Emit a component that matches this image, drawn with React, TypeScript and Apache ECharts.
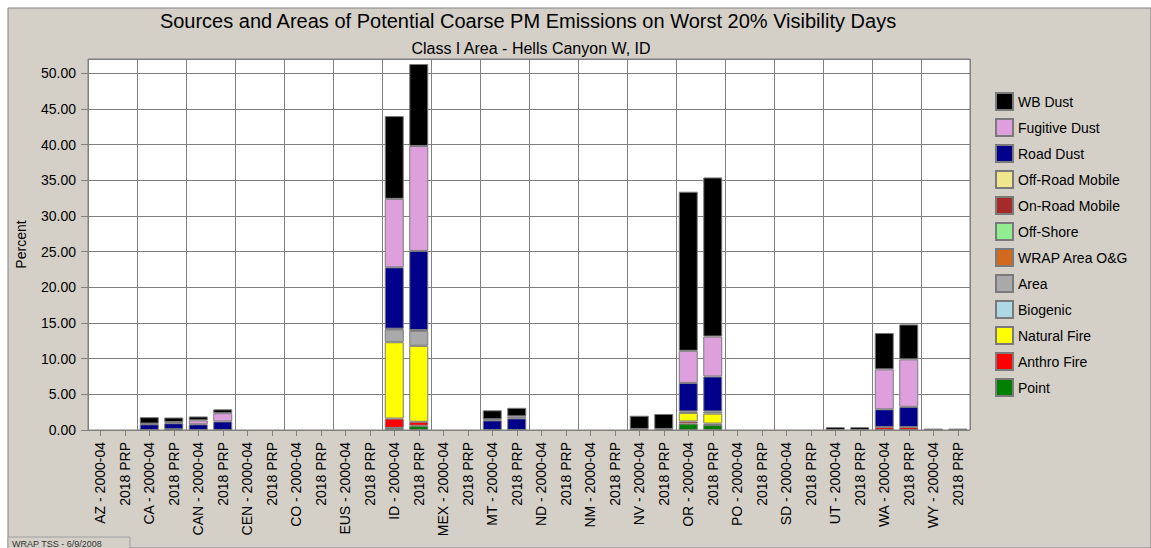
import React, { useEffect, useRef } from "react";
import * as echarts from "echarts";

const states = ["AZ","CA","CAN","CEN","CO","EUS","ID","MEX","MT","ND","NM","NV","OR","PO","SD","UT","WA","WY"];
const categories: string[] = [];
states.forEach((s) => { categories.push(`${s} - 2000-04`); categories.push("2018 PRP"); });

// index order: AZ0,AZ18,CA0,CA18,CAN0,CAN18,CEN0,CEN18,CO0,CO18,EUS0,EUS18,ID0,ID18,MEX0,MEX18,MT0,MT18,ND0,ND18,NM0,NM18,NV0,NV18,OR0,OR18,PO0,PO18,SD0,SD18,UT0,UT18,WA0,WA18,WY0,WY18
const point      = [0,0, 0,0, 0,0, 0,0, 0,0, 0,0, 0.3,0.6, 0,0, 0,0, 0,0, 0,0, 0,0, 0.9,0.7, 0,0, 0,0, 0,0, 0,0, 0,0];
const anthroFire = [0,0, 0,0, 0,0, 0,0, 0,0, 0,0, 1.3,0.55, 0,0, 0,0, 0,0, 0,0, 0,0, 0.3,0.2, 0,0, 0,0, 0,0, 0.4,0.4, 0,0];
const naturalFire= [0,0, 0,0, 0,0, 0,0, 0,0, 0,0, 10.7,10.65, 0,0, 0,0, 0,0, 0,0, 0,0, 1.2,1.4, 0,0, 0,0, 0,0, 0,0, 0,0];
const biogenic   = [0,0, 0,0, 0,0, 0,0, 0,0, 0,0, 0,0, 0,0, 0,0, 0,0, 0,0, 0,0, 0,0, 0,0, 0,0, 0,0, 0,0, 0,0];
const area       = [0,0, 0,0, 0,0, 0,0, 0,0, 0,0, 1.8,2.1, 0,0, 0,0, 0,0, 0,0, 0,0, 0.2,0.3, 0,0, 0,0, 0,0, 0,0, 0,0];
const wrapOG     = [0,0, 0,0, 0,0, 0,0, 0,0, 0,0, 0,0, 0,0, 0,0, 0,0, 0,0, 0,0, 0,0, 0,0, 0,0, 0,0, 0,0, 0,0];
const offShore   = [0,0, 0,0, 0,0, 0,0, 0,0, 0,0, 0,0, 0,0, 0,0, 0,0, 0,0, 0,0, 0,0, 0,0, 0,0, 0,0, 0,0, 0,0];
const onRoad     = [0,0, 0,0, 0,0, 0,0, 0,0, 0,0, 0.1,0.1, 0,0, 0,0, 0,0, 0,0, 0,0, 0,0, 0,0, 0,0, 0,0, 0,0, 0,0];
const offRoad    = [0,0, 0,0.1, 0,0, 0,0, 0,0, 0,0, 0,0, 0,0, 0,0, 0,0, 0,0, 0,0, 0,0, 0,0, 0,0, 0,0, 0,0, 0,0];
const roadDust   = [0,0, 0.8,0.85, 0.8,1.2, 0,0, 0,0, 0,0, 8.6,11.1, 0,0, 1.35,1.63, 0,0, 0,0, 0,0, 4.0,4.9, 0,0, 0,0, 0,0, 2.5,2.85, 0,0];
const fugitive   = [0,0, 0.1,0.15, 0.55,1.15, 0,0, 0,0, 0,0, 9.6,14.7, 0,0, 0.15,0.28, 0,0, 0,0, 0.15,0.15, 4.5,5.6, 0,0, 0,0, 0,0, 5.6,6.65, 0,0];
const wbDust     = [0,0, 0.9,0.65, 0.55,0.55, 0,0, 0,0, 0,0, 11.6,11.5, 0,0, 1.26,1.2, 0,0, 0,0, 1.85,2.1, 22.3,22.3, 0,0, 0,0, 0.4,0.4, 5.1,4.9, 0.2,0.2];

const seriesDefs = [
  { name: "Point", data: point, color: "#008000" },
  { name: "Anthro Fire", data: anthroFire, color: "#FF0000" },
  { name: "Natural Fire", data: naturalFire, color: "#FFFF00" },
  { name: "Biogenic", data: biogenic, color: "#ADD8E6" },
  { name: "Area", data: area, color: "#A9A9A9" },
  { name: "WRAP Area O&G", data: wrapOG, color: "#D2691E" },
  { name: "Off-Shore", data: offShore, color: "#90EE90" },
  { name: "On-Road Mobile", data: onRoad, color: "#A52A2A" },
  { name: "Off-Road Mobile", data: offRoad, color: "#F0E68C" },
  { name: "Road Dust", data: roadDust, color: "#00008B" },
  { name: "Fugitive Dust", data: fugitive, color: "#DDA0DD" },
  { name: "WB Dust", data: wbDust, color: "#000000" },
];

const FONT = "'Liberation Sans', Arial, sans-serif";

export default function App() {
  const ref = useRef<HTMLDivElement>(null);
  useEffect(() => {
    if (!ref.current) return;
    const chart = echarts.init(ref.current, undefined, { renderer: "svg" });
    chart.setOption({
      animation: false,
      backgroundColor: "#FFFFFF",
      textStyle: { fontFamily: FONT },
      graphic: [
        { type: "rect", z: -10, shape: { x: 8, y: 8, width: 1143, height: 540 }, style: { fill: "#D4D0C8", stroke: "#808080", lineWidth: 1 } },
        { type: "rect", z: 10, shape: { x: 8, y: 537, width: 122, height: 12 }, style: { fill: "#D4D0C8", stroke: "#A0A0A0", lineWidth: 1 } },
        { type: "text", z: 11, x: 12, y: 539, style: { text: "WRAP TSS - 6/9/2008", fontSize: 9, fill: "#333", fontFamily: FONT } },
      ],
      title: [
        { text: "Sources and Areas of Potential Coarse PM Emissions on Worst 20% Visibility Days", left: 523, top: 6, textAlign: "center",
          textStyle: { fontSize: 20, fontWeight: "normal", color: "#000", fontFamily: FONT } },
        { text: "Class I Area - Hells Canyon W, ID", left: 526, top: 35, textAlign: "center",
          textStyle: { fontSize: 16, fontWeight: "normal", color: "#000", fontFamily: FONT } },
      ],
      legend: {
        orient: "vertical", left: 990, top: 87, itemWidth: 17, itemHeight: 17, itemGap: 7,
        icon: "rect",
        data: seriesDefs.map((s) => s.name).reverse(),
        textStyle: { fontSize: 14, color: "#000", fontFamily: FONT },
      },
      grid: { left: 88, top: 59, right: 181, bottom: 118, show: true, backgroundColor: "#FFFFFF", borderColor: "#808080", borderWidth: 1 },
      xAxis: {
        type: "category", data: categories,
        axisLine: { show: false },
        axisTick: { show: true, alignWithLabel: true, length: 6, lineStyle: { color: "#808080" } },
        axisLabel: { interval: 0, rotate: 90, fontSize: 14, color: "#000", margin: 12, fontFamily: FONT },
        splitLine: { show: true, interval: (idx: number) => idx % 2 === 0, lineStyle: { color: "#808080", width: 1 } },
      },
      yAxis: {
        type: "value", min: 0, max: 52, interval: 5,
        name: "Percent", nameLocation: "middle", nameGap: 60, nameRotate: 90,
        nameTextStyle: { fontSize: 14, color: "#000", fontFamily: FONT },
        axisLine: { show: false },
        axisTick: { show: true, length: 7, lineStyle: { color: "#808080" } },
        axisLabel: { fontSize: 14, color: "#000", margin: 12, showMaxLabel: false, formatter: (v: number) => v.toFixed(2), fontFamily: FONT },
        splitLine: { show: true, lineStyle: { color: "#808080", width: 1 } },
      },
      series: seriesDefs.map((s) => ({
        name: s.name, type: "bar", stack: "total", barWidth: 19,
        data: s.data.map((v) => (v === 0 ? null : v)),
        itemStyle: { color: s.color, borderColor: "#7a7a7a", borderWidth: 1 },
      })),
    });
    return () => chart.dispose();
  }, []);
  return <div ref={ref} style={{ position: "absolute", left: 0, top: 0, width: 1151, height: 548 }} />;
}
